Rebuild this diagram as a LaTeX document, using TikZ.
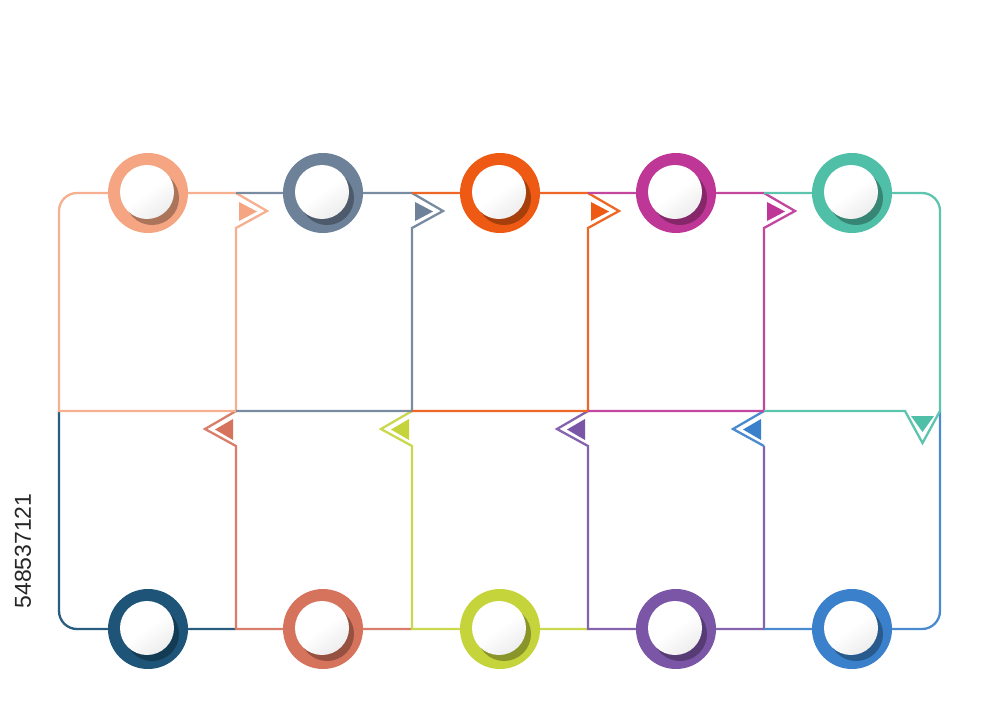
\documentclass[tikz,border=0pt]{standalone}
\usepackage{fontspec}
\setmainfont{Liberation Sans}
\definecolor{cA}{HTML}{F5A581}
\definecolor{cB}{HTML}{6D8199}
\definecolor{cC}{HTML}{EE5A13}
\definecolor{cD}{HTML}{BE3796}
\definecolor{cE}{HTML}{4FBFA7}
\definecolor{cF}{HTML}{1D5478}
\definecolor{cG}{HTML}{D6735D}
\definecolor{cH}{HTML}{C4D43A}
\definecolor{cI}{HTML}{7B55A6}
\definecolor{cJ}{HTML}{3A80CB}
\newcommand\mybead[3]{%
  \fill[#3] (#1,#2) circle[radius=40];
  \fill[#3!70!black] (#1+4,#2+5) circle[radius=27];
  \shade[top color=white,bottom color=gray!14,middle color=white,shading angle=35] (#1-1,#2-1) circle[radius=27];
}
\begin{document}
\begin{tikzpicture}[x=1pt,y=-1pt,
  ln/.style={line width=2.3pt,line join=miter,line cap=butt},
  idtext/.style={rotate=90,font=\fontsize{23}{23}\selectfont,text=black!85}]
\useasboundingbox (0,0) rectangle (1000,720);
\fill[white] (0,0) rectangle (1000,720);

% ---- bottom row ----
\draw[ln,cF!95!white] (59,411) -- (59,611) arc(180:90:18) -- (236,629);
\draw[ln,cG!92!white] (236,411) -- (205,429) -- (236,446) -- (236,629) -- (412,629);
\fill[cG] (233,419) -- (215,429.5) -- (233,440) -- cycle;
\draw[ln,cH!90!white] (412,411) -- (381,429) -- (412,446) -- (412,629) -- (588,629);
\fill[cH] (409,419) -- (391,429.5) -- (409,440) -- cycle;
\draw[ln,cI!92!white] (588,411) -- (557,429) -- (588,446) -- (588,629) -- (764,629) -- (764,446);
\fill[cI] (585,419) -- (567,429.5) -- (585,440) -- cycle;
\draw[ln,cJ!92!white] (764,411) -- (733,429) -- (764,446);
\fill[cJ] (761,419) -- (743,429.5) -- (761,440) -- cycle;
\draw[ln,cJ!92!white] (764,629) -- (922,629) arc(90:0:18) -- (940,411);

% ---- top row ----
\draw[ln,cA!88!white] (236,411) -- (59,411) -- (59,211) arc(180:270:18) -- (236,193) -- (267,211) -- (236,228) -- cycle;
\fill[cA] (239,202) -- (257,211.5) -- (239,221) -- cycle;
\draw[ln,cB!92!white] (236,411) -- (412,411) -- (412,228) -- (443,211) -- (412,193) -- (236,193);
\fill[cB] (415,202) -- (433,211.5) -- (415,221) -- cycle;
\draw[ln,cC!92!white] (412,411) -- (588,411) -- (588,228) -- (619,211) -- (588,193) -- (412,193);
\fill[cC] (591,202) -- (609,211.5) -- (591,221) -- cycle;
\draw[ln,cD!92!white] (588,411) -- (764,411) -- (764,228) -- (795,211) -- (764,193) -- (588,193);
\fill[cD] (767,202) -- (785,211.5) -- (767,221) -- cycle;
\draw[ln,cE!92!white] (764,193) -- (922,193) arc(270:360:18) -- (940,411) -- (922.5,443) -- (905,411) -- (764,411);
\fill[cE] (911,416) -- (934,416) -- (922.5,432) -- cycle;

% ---- beads ----
\mybead{148}{193}{cA}
\mybead{323}{193}{cB}
\mybead{500}{193}{cC}
\mybead{676}{193}{cD}
\mybead{852}{193}{cE}
\mybead{148}{629}{cF}
\mybead{323}{629}{cG}
\mybead{500}{629}{cH}
\mybead{676}{629}{cI}
\mybead{852}{629}{cJ}

\node[idtext] (id) at (23,551) {548537121};
\end{tikzpicture}
\end{document}
